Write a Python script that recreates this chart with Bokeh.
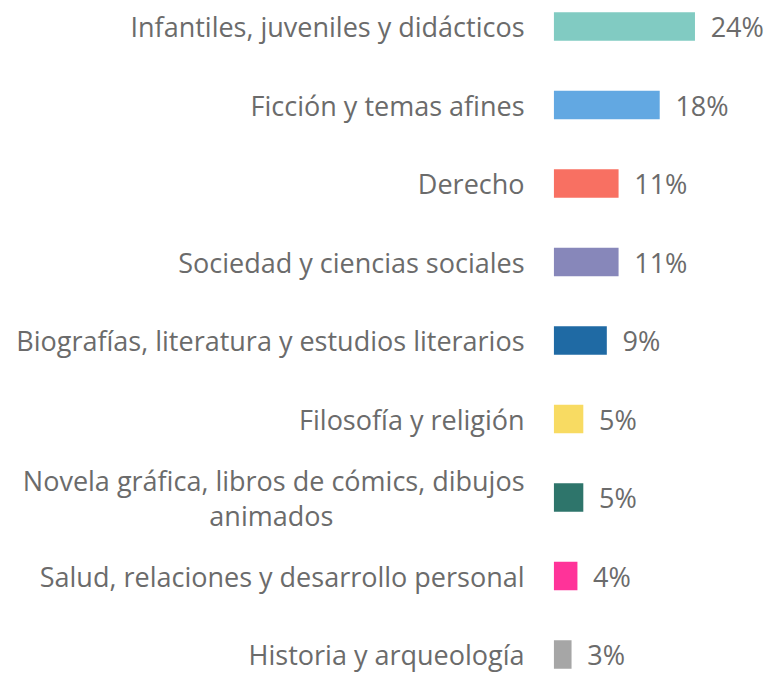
from bokeh.plotting import figure
from bokeh.models import ColumnDataSource, Range1d
from bokeh.core.properties import value
from bokeh.embed import file_html
from bokeh.resources import INLINE

categories = [
    "Infantiles, juveniles y didácticos",
    "Ficción y temas afines",
    "Derecho",
    "Sociedad y ciencias sociales",
    "Biografías, literatura y estudios literarios",
    "Filosofía y religión",
    "Novela gráfica, libros de cómics, dibujos\nanimados",
    "Salud, relaciones y desarrollo personal",
    "Historia y arqueología",
]
values = [24, 18, 11, 11, 9, 5, 5, 4, 3]
colors = ["#81CBC2", "#62A8E2", "#F87062", "#8787BA", "#1F6AA4",
          "#F8DB62", "#2E756B", "#FF3399", "#A6A6A6"]

W, H = 765, 672
sx = W / 781
sy = H / 688
px_per_unit = 6.0 * sx
bar_start_px = 565 * sx
row_px = 78.5
first_center_px = 26.0

FONT = "Open Sans"
FSIZE = "27px"
TCOLOR = "#6B6B6B"

ys = [-i for i in range(len(values))]

p = figure(width=W, height=H, output_backend="svg", toolbar_location=None,
           x_range=Range1d(-bar_start_px / px_per_unit, (W - bar_start_px) / px_per_unit),
           y_range=Range1d(-(H - first_center_px) / row_px, first_center_px / row_px),
           min_border=0)
p.axis.visible = False
p.grid.visible = False
p.outline_line_color = None
p.background_fill_color = "white"

src = ColumnDataSource(dict(y=ys, v=values, c=colors,
                            lab=[f"{v}%" for v in values],
                            lx=[v + 16 * sx / px_per_unit for v in values]))
p.hbar(y="y", left=0, right="v", height=28.5 / row_px, fill_color="c",
       line_color=None, source=src)

p.text(x="lx", y="y", text="lab", source=src, text_font=value(FONT),
       text_font_size=FSIZE, text_color=TCOLOR, text_align="left",
       text_baseline="middle")

label_x = -30 * sx / px_per_unit
single_y, single_t = [], []
for y, c in zip(ys, categories):
    if "\n" in c:
        l1, l2 = c.split("\n")
        p.text(x=[label_x], y=[y + 17.5 / row_px], text=[l1], text_font=value(FONT),
               text_font_size=FSIZE, text_color=TCOLOR, text_align="right",
               text_baseline="middle")
        p.text(x=[(276.5 - 565) * sx / px_per_unit], y=[y - 17.5 / row_px],
               text=[l2], text_font=value(FONT), text_font_size=FSIZE,
               text_color=TCOLOR, text_align="center", text_baseline="middle")
    else:
        single_y.append(y)
        single_t.append(c)
p.text(x=label_x, y=single_y, text=single_t, text_font=value(FONT),
       text_font_size=FSIZE, text_color=TCOLOR, text_align="right",
       text_baseline="middle")

open("out.html", "w").write(file_html(p, INLINE))
